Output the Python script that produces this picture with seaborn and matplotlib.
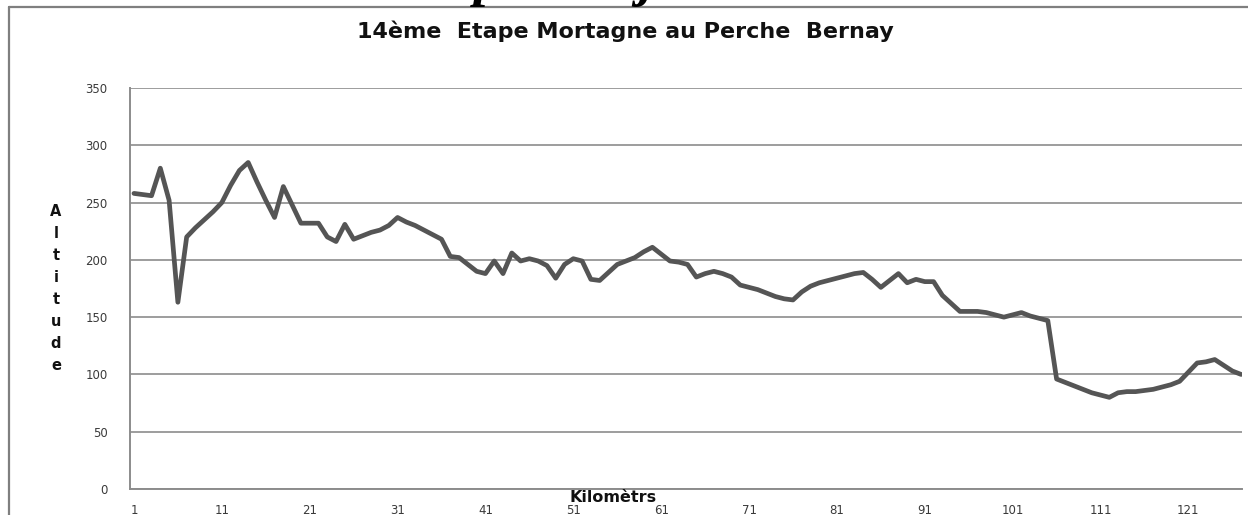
import numpy as np
import pandas as pd
import matplotlib
matplotlib.use('Agg')
import matplotlib.pyplot as plt
from matplotlib.lines import Line2D
import seaborn as sns

##altitude profile, one value per km
altitude = [258, 257, 256, 280, 252, 163, 220, 228, 235, 242,
            250, 265, 278, 285, 268, 252, 237, 264, 248, 232,
            232, 232, 220, 216, 231, 218, 221, 224, 226, 230,
            237, 233, 230, 226, 222, 218, 203, 202, 196, 190,
            188, 199, 188, 206, 199, 201, 199, 195, 184, 196,
            201, 199, 183, 182, 189, 196, 199, 202, 207, 211,
            205, 199, 198, 196, 185, 188, 190, 188, 185, 178,
            176, 174, 171, 168, 166, 165, 172, 177, 180, 182,
            184, 186, 188, 189, 183, 176, 182, 188, 180, 183,
            181, 181, 169, 162, 155, 155, 155, 154, 152, 150,
            152, 154, 151, 149, 147, 96, 93, 90, 87, 84,
            82, 80, 84, 85, 85, 86, 87, 89, 91, 94,
            102, 110, 111, 113, 108, 103, 100]
km = list(range(1, len(altitude) + 1))
x_ticks = list(range(1, 122, 10))
y_ticks = [0, 50, 100, 150, 200, 250, 300, 350]

title = '14ème  Etape Mortagne au Perche  Bernay'
x_label = 'Kilomètrs'
y_label = 'Altitude'

df = pd.DataFrame({'km': km, 'altitude': altitude})

sns.set_theme(style='white')
plt.rcParams['font.family'] = ['DejaVu Sans']

W, H = 1248, 515
fig = plt.figure(figsize=(W / 100, H / 100), dpi=100)
ax = fig.add_axes([130 / W, 1 - 489 / H, (1242 - 130) / W, (489 - 88) / H])

sns.lineplot(data=df, x='km', y='altitude', color='#555555', linewidth=3.4, ax=ax)

ax.set_ylim(0, 350)
ax.set_xlim(0.55, 127.1)
ax.set_yticks(y_ticks)
ax.set_xticks(x_ticks)
ax.set_yticklabels([str(v) for v in y_ticks], fontsize=8.5, color='#3a3a3a')
ax.set_xticklabels([str(v) for v in x_ticks], fontsize=8.5, color='#3a3a3a')
ax.tick_params(axis='y', length=0, pad=16)
ax.tick_params(axis='x', length=0, pad=11)
ax.set_xlabel('')
ax.set_ylabel('')
ax.yaxis.grid(True, color='#8c8c8c', linewidth=1.2)
ax.xaxis.grid(False)
ax.set_axisbelow(True)
sns.despine(ax=ax, top=True, right=True)
for side in ['left', 'bottom']:
    ax.spines[side].set_color('#8c8c8c')
    ax.spines[side].set_linewidth(1.4)

##outer frame of the chart area: only top and left edges are visible
frame_x, frame_y = 9 / W, 1 - 7 / H
fig.lines.append(Line2D([frame_x, 1.0], [frame_y, frame_y], transform=fig.transFigure,
                        color='#7f7f7f', linewidth=1.6))
fig.lines.append(Line2D([frame_x, frame_x], [0.0, frame_y], transform=fig.transFigure,
                        color='#7f7f7f', linewidth=1.6))

##descenders of a cut-off heading above the frame
fig.text(474 / W, 1 + 5 / H, 'p', family='Liberation Serif', style='italic',
         weight='bold', fontsize=40, ha='left', va='baseline', color='black')
fig.text(638 / W, 1 + 5 / H, 'j', family='Liberation Serif', style='italic',
         weight='bold', fontsize=40, ha='left', va='baseline', color='black')

fig.text(625 / W, 1 - 31 / H, title, weight='bold',
         fontsize=16, ha='center', va='center', color='#111111')

##vertical stacked y label
for i, ch in enumerate(y_label):
    fig.text(56 / W, 1 - (212 + i * 22) / H, ch, fontsize=10.5, weight='bold',
             ha='center', va='center', color='#111111')

fig.text(613 / W, 1 - 497 / H, x_label, weight='bold',
         fontsize=11.5, ha='center', va='center', color='#111111')

fig.savefig('out.png', dpi=100)
